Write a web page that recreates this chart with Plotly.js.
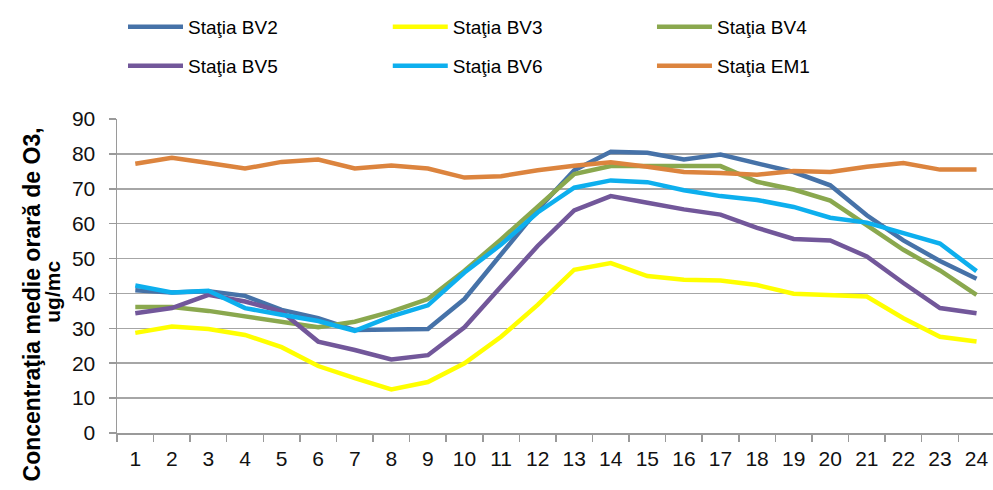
<!DOCTYPE html>
<html>
<head>
<meta charset="utf-8">
<script src="https://cdn.plot.ly/plotly-3.0.1.min.js"></script>
<style>html,body{margin:0;padding:0;background:#fff;}#chart{width:993px;height:490px;}</style>
</head>
<body>
<div id="chart"></div>
<script>
var hours = ["1","2","3","4","5","6","7","8","9","10","11","12","13","14","15","16","17","18","19","20","21","22","23","24"];
var seriesNames = ["Staţia BV2","Staţia BV3","Staţia BV4","Staţia BV5","Staţia BV6","Staţia EM1"];
var bv2 = [40.9, 40.3, 40.6, 39.3, 35.3, 32.9, 29.5, 29.5, 29.8, 38.4, 51.3, 64.0, 75.3, 80.6, 80.3, 78.4, 79.8, 77.2, 74.8, 71.0, 62.4, 55.2, 49.3, 44.2];
var bv3 = [28.7, 30.5, 29.8, 28.1, 24.6, 19.2, 15.7, 12.5, 14.6, 20.0, 27.6, 36.7, 46.8, 48.7, 45.0, 43.9, 43.7, 42.4, 39.9, 39.6, 39.1, 32.9, 27.6, 26.2];
var bv4 = [36.1, 36.1, 35.0, 33.4, 31.9, 30.3, 31.9, 34.8, 38.4, 46.5, 55.5, 65.0, 74.2, 76.5, 76.5, 76.8, 76.5, 72.0, 69.8, 66.6, 59.4, 52.5, 46.6, 39.6];
var bv5 = [34.3, 35.8, 39.6, 37.7, 34.8, 26.2, 23.8, 21.1, 22.3, 30.3, 42.0, 53.6, 63.8, 67.9, 66.0, 64.1, 62.6, 58.8, 55.6, 55.2, 50.6, 43.0, 35.8, 34.3];
var bv6 = [42.3, 40.3, 40.8, 35.8, 33.9, 32.1, 29.3, 33.4, 36.6, 46.0, 54.0, 63.2, 70.3, 72.4, 71.9, 69.6, 67.9, 66.8, 64.8, 61.7, 60.3, 57.4, 54.3, 46.4];
var em1 = [77.2, 78.9, 77.4, 75.8, 77.7, 78.4, 75.8, 76.7, 75.8, 73.2, 73.6, 75.3, 76.6, 77.6, 76.3, 74.8, 74.5, 74.0, 75.1, 74.8, 76.3, 77.4, 75.5, 75.5];
var yTicks = [0, 10, 20, 30, 40, 50, 60, 70, 80, 90];
var yTitleLine1 = "Concentraţia medie orară de O3,";
var yTitleLine2 = "ug/mc";

var allSeries = [bv2, bv3, bv4, bv5, bv6, em1];
var colors = ["#4672A8", "#FFFF00", "#8AA84E", "#72579A", "#0DAFEE", "#DC843E"];
var legendIds = ["legend", "legend2", "legend3", "legend4", "legend5", "legend6"];

var FONT = "Liberation Sans, Arial, sans-serif";
var traces = allSeries.map(function (vals, i) {
  return {
    type: "scatter",
    mode: "lines",
    name: seriesNames[i],
    x: hours,
    y: vals,
    line: {color: colors[i], width: 4.5},
    legend: legendIds[i],
    hoverinfo: "x+y+name"
  };
});

// legend positions (paper coords): 3 columns x 2 rows
var legX = [0.00685, 0.3091, 0.6107];
var legY = [1.293, 1.169];
var layout = {
  width: 993,
  height: 490,
  margin: {l: 117, r: 0, t: 119, b: 57, pad: 0},
  paper_bgcolor: "#ffffff",
  plot_bgcolor: "#ffffff",
  font: {family: FONT, color: "#000000"},
  showlegend: true,
  xaxis: {
    type: "category",
    range: [-0.5, 23.45],
    showgrid: false,
    showline: true,
    linecolor: "#9a9a9a",
    linewidth: 1.5,
    ticks: "outside",
    tickson: "boundaries",
    ticklen: 7,
    tickcolor: "#9a9a9a",
    tickwidth: 1.5,
    tickfont: {family: FONT, size: 21, color: "#111111"},
    ticklabelstandoff: 6,
    zeroline: false,
    fixedrange: true
  },
  yaxis: {
    range: [0, 90],
    tickvals: yTicks,
    ticktext: yTicks.map(String),
    showgrid: true,
    gridcolor: "#a6a6a6",
    gridwidth: 1.5,
    showline: true,
    linecolor: "#9a9a9a",
    linewidth: 1.5,
    ticks: "outside",
    ticklen: 7,
    tickcolor: "#9a9a9a",
    tickwidth: 1.5,
    tickfont: {family: FONT, size: 21, color: "#111111"},
    ticklabelstandoff: 9,
    zeroline: false,
    fixedrange: true
  },
  annotations: [
    {text: yTitleLine1, xref: "paper", yref: "paper", x: -0.0965, y: 0.4108,
     xanchor: "center", yanchor: "middle", textangle: -90, showarrow: false,
     font: {family: FONT, size: 23, weight: "bold", color: "#000000"}},
    {text: yTitleLine2, xref: "paper", yref: "paper", x: -0.0745, y: 0.449,
     xanchor: "center", yanchor: "middle", textangle: -90, showarrow: false,
     font: {family: FONT, size: 21, weight: "bold", color: "#000000"}}
  ]
};
legendIds.forEach(function (id, i) {
  layout[id] = {
    x: legX[i % 3],
    y: legY[Math.floor(i / 3)],
    xref: "paper",
    yref: "paper",
    xanchor: "left",
    yanchor: "middle",
    orientation: "h",
    bgcolor: "rgba(0,0,0,0)",
    borderwidth: 0,
    itemwidth: 55,
    font: {family: FONT, size: 19, color: "#000000"}
  };
});

Plotly.newPlot("chart", traces, layout, {displayModeBar: false, staticPlot: true});
</script>
</body>
</html>
